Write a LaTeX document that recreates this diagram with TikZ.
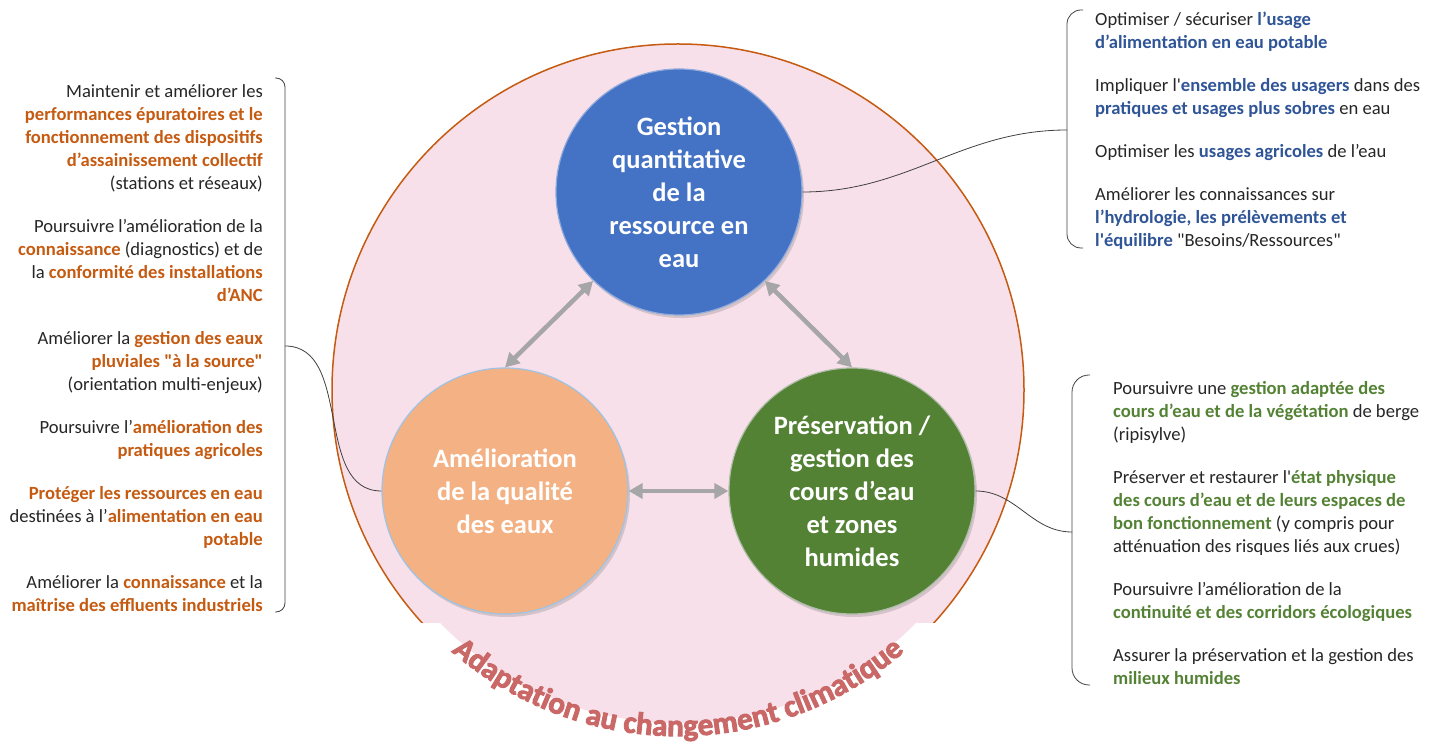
\documentclass[tikz,border=0pt]{standalone}
\usepackage{fontspec}
\newfontfamily\carlito{Carlito}
\newfontfamily\lourd{Carlito}[BoldFeatures={FakeBold=3}]
\usetikzlibrary{arrows.meta,shadows,decorations.text}
\definecolor{fond}{RGB}{248,224,234}
\definecolor{bord}{RGB}{197,90,17}
\definecolor{bleu}{RGB}{68,114,196}
\definecolor{saumon}{RGB}{244,177,131}
\definecolor{vert}{RGB}{84,130,53}
\definecolor{cbleu}{RGB}{143,170,220}
\definecolor{csaumon}{RGB}{157,195,230}
\definecolor{cvert}{RGB}{178,190,172}
\definecolor{txtorange}{RGB}{197,90,17}
\definecolor{txtbleu}{RGB}{47,85,151}
\definecolor{txtvert}{RGB}{84,130,53}
\definecolor{fleche}{RGB}{166,166,166}
\definecolor{adapt}{RGB}{202,104,104}
\newcommand{\hor}[1]{\textbf{\color{txtorange}#1}}
\newcommand{\hbl}[1]{\textbf{\color{txtbleu}#1}}
\newcommand{\hvt}[1]{\textbf{\color{txtvert}#1}}
\begin{document}
\begin{tikzpicture}[x=1pt,y=1pt,
    theme/.style={circle,minimum size=246pt,inner sep=0pt,align=center,text=white,
      font=\carlito\bfseries\fontsize{26.5}{33}\selectfont,line width=1.2pt,
      drop shadow={opacity=0.3,shadow xshift=2pt,shadow yshift=-3pt}},
    liste/.style={inner sep=0pt,text=black!85,font=\carlito\fontsize{18.6}{23}\selectfont},
    lien/.style={draw=black!75,line width=0.8pt},
    accolade/.style={draw=black!75,line width=0.8pt},
    dfleche/.style={draw=fleche,line width=4.5pt,
      {Triangle[length=14pt,width=15pt]}-{Triangle[length=14pt,width=15pt]}}]
  \useasboundingbox (0,0) rectangle (1443,747);
  \coordinate (c) at (678,357);
  \begin{scope}
    \clip (0,124) rectangle (1443,747);
    \draw[fill=fond,draw=bord,line width=1.5pt] (c) circle[radius=346];
  \end{scope}
  \begin{scope}
    \clip (0,0) rectangle (1443,124);
    \fill[fond] (c) circle[radius=333];
  \end{scope}
  \path[decorate,decoration={text along path,text align=center,
      text={|\lourd\bfseries\fontsize{31}{31}\selectfont\color{adapt}|Adaptation au changement climatique}}]
    (c) ++(200:346) arc[start angle=200,end angle=340,radius=346];

  \node[theme,fill=bleu,draw=cbleu] (gq) at (679,555) {Gestion\\quantitative\\de la\\ressource en\\eau};
  \node[theme,fill=saumon,draw=csaumon] (aq) at (505,256) {Amélioration\\de la qualité\\des eaux};
  \node[theme,fill=vert,draw=cvert] (pg) at (852,256) {Préservation /\\gestion des\\cours d’eau\\et zones\\humides};

  \draw[dfleche] (gq.226) to (aq.north);
  \draw[dfleche] (gq.314) to (pg.north);
  \draw[dfleche] (aq.east) to (pg.west);

  \node[liste,anchor=north east,align=right] (tg) at (263,663) {Maintenir et améliorer les\\
    \hor{performances épuratoires et le}\\
    \hor{fonctionnement des dispositifs}\\
    \hor{d’assainissement collectif}\\
    (stations et réseaux)\\[20pt]
    Poursuivre l’amélioration de la\\
    \hor{connaissance} (diagnostics) et de\\
    la \hor{conformité des installations}\\
    \hor{d’ANC}\\[20pt]
    Améliorer la \hor{gestion des eaux}\\
    \hor{pluviales "à la source"}\\
    (orientation multi-enjeux)\\[20pt]
    Poursuivre l’\hor{amélioration des}\\
    \hor{pratiques agricoles}\\[20pt]
    \hor{Protéger les ressources en eau}\\
    destinées à l’\hor{alimentation en eau}\\
    \hor{potable}\\[20pt]
    Améliorer la \hor{connaissance} et la\\
    \hor{maîtrise des effluents industriels}};
  \node[liste,anchor=north west,align=left] (th) at (1095,735) {Optimiser / sécuriser \hbl{l’usage}\\
    \hbl{d’alimentation en eau potable}\\[20pt]
    Impliquer l'\hbl{ensemble des usagers} dans des\\
    \hbl{pratiques et usages plus sobres} en eau\\[20pt]
    Optimiser les \hbl{usages agricoles} de l’eau\\[20pt]
    Améliorer les connaissances sur\\
    \hbl{l’hydrologie, les prélèvements et}\\
    \hbl{l'équilibre} "Besoins/Ressources"};
  \node[liste,anchor=north west,align=left] (tb) at (1113,366) {Poursuivre une \hvt{gestion adaptée des}\\
    \hvt{cours d’eau et de la végétation} de berge\\
    (ripisylve)\\[20pt]
    Préserver et restaurer l'\hvt{état physique}\\
    \hvt{des cours d’eau et de leurs espaces de}\\
    \hvt{bon fonctionnement} (y compris pour\\
    atténuation des risques liés aux crues)\\[20pt]
    Poursuivre l’amélioration de la\\
    \hvt{continuité et des corridors écologiques}\\[20pt]
    Assurer la préservation et la gestion des\\
    \hvt{milieux humides}};

  \draw[accolade,rounded corners=9pt] (275,669) -- (285,669) -- (285,135) -- (275,135);
  \coordinate (ag) at (285,401);
  \draw[lien] (ag) to[out=0,in=180] (aq.west);
  \draw[accolade,rounded corners=14pt] (1083,737) -- (1067,737) -- (1067,499) -- (1083,499);
  \coordinate (ah) at (1067,617);
  \draw[lien] (gq.east) to[out=0,in=180] (ah);
  \draw[accolade,rounded corners=17pt] (1090,372) -- (1072,372) -- (1072,62) -- (1090,62);
  \coordinate (ab) at (1072,215);
  \draw[lien] (pg.east) to[out=0,in=180] (ab);
\end{tikzpicture}
\end{document}
